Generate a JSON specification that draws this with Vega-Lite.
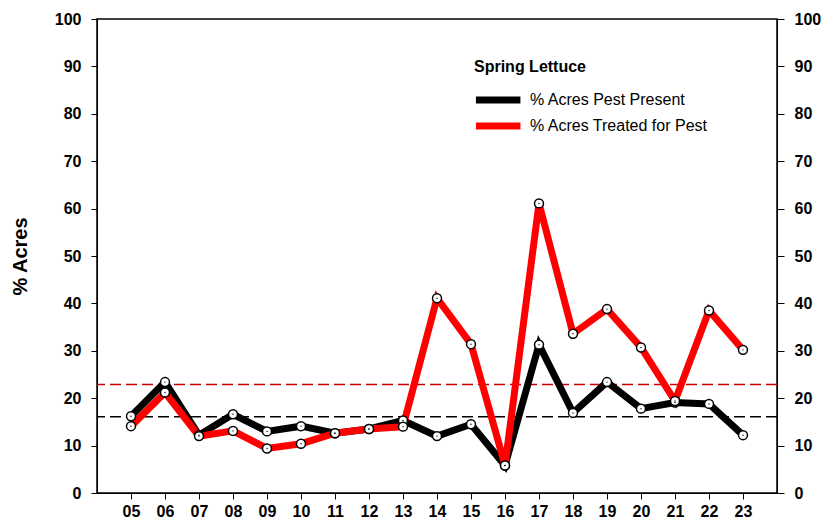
{
  "$schema": "https://vega.github.io/schema/vega-lite/v6.json",
  "width": 680,
  "height": 474,
  "autosize": {"type": "none"},
  "padding": {"left": 97, "top": 19, "right": 51, "bottom": 30},
  "background": "white",
  "config": {
    "font": "Liberation Sans",
    "view": {"stroke": "black", "strokeWidth": 1.5},
    "axis": {
      "labelFont": "Liberation Sans", "labelFontWeight": "bold", "labelFontSize": 16, "labelColor": "black",
      "domainColor": "black", "tickColor": "black", "tickSize": 6, "grid": false,
      "titleFont": "Liberation Sans", "titleFontWeight": "bold", "titleColor": "black"
    },
    "legend": {
      "labelFont": "Liberation Sans", "labelFontSize": 16, "labelColor": "black",
      "titleFont": "Liberation Sans", "titleFontSize": 16, "titleFontWeight": "bold", "titleColor": "black"
    }
  },
  "datasets": {
    "series": [
      {"year": "05", "series": "% Acres Pest Present", "value": 16.2},
      {"year": "06", "series": "% Acres Pest Present", "value": 23.4},
      {"year": "07", "series": "% Acres Pest Present", "value": 12.2},
      {"year": "08", "series": "% Acres Pest Present", "value": 16.6},
      {"year": "09", "series": "% Acres Pest Present", "value": 13.0},
      {"year": "10", "series": "% Acres Pest Present", "value": 14.1},
      {"year": "11", "series": "% Acres Pest Present", "value": 12.6},
      {"year": "12", "series": "% Acres Pest Present", "value": 13.5},
      {"year": "13", "series": "% Acres Pest Present", "value": 15.3},
      {"year": "14", "series": "% Acres Pest Present", "value": 12.0},
      {"year": "15", "series": "% Acres Pest Present", "value": 14.5},
      {"year": "16", "series": "% Acres Pest Present", "value": 5.8},
      {"year": "17", "series": "% Acres Pest Present", "value": 31.3},
      {"year": "18", "series": "% Acres Pest Present", "value": 16.9},
      {"year": "19", "series": "% Acres Pest Present", "value": 23.4},
      {"year": "20", "series": "% Acres Pest Present", "value": 17.8},
      {"year": "21", "series": "% Acres Pest Present", "value": 19.1},
      {"year": "22", "series": "% Acres Pest Present", "value": 18.8},
      {"year": "23", "series": "% Acres Pest Present", "value": 12.2},
      {"year": "05", "series": "% Acres Treated for Pest", "value": 14.1},
      {"year": "06", "series": "% Acres Treated for Pest", "value": 21.2},
      {"year": "07", "series": "% Acres Treated for Pest", "value": 12.0},
      {"year": "08", "series": "% Acres Treated for Pest", "value": 13.1},
      {"year": "09", "series": "% Acres Treated for Pest", "value": 9.4},
      {"year": "10", "series": "% Acres Treated for Pest", "value": 10.4},
      {"year": "11", "series": "% Acres Treated for Pest", "value": 12.6},
      {"year": "12", "series": "% Acres Treated for Pest", "value": 13.5},
      {"year": "13", "series": "% Acres Treated for Pest", "value": 14.0},
      {"year": "14", "series": "% Acres Treated for Pest", "value": 41.1},
      {"year": "15", "series": "% Acres Treated for Pest", "value": 31.4},
      {"year": "16", "series": "% Acres Treated for Pest", "value": 5.8},
      {"year": "17", "series": "% Acres Treated for Pest", "value": 61.1},
      {"year": "18", "series": "% Acres Treated for Pest", "value": 33.6},
      {"year": "19", "series": "% Acres Treated for Pest", "value": 38.8},
      {"year": "20", "series": "% Acres Treated for Pest", "value": 30.7},
      {"year": "21", "series": "% Acres Treated for Pest", "value": 19.4},
      {"year": "22", "series": "% Acres Treated for Pest", "value": 38.5},
      {"year": "23", "series": "% Acres Treated for Pest", "value": 30.2}
    ]
  },
  "layer": [
    {
      "data": {"values": [{"avg": 16.1}]},
      "mark": {"type": "rule", "strokeWidth": 1.5, "strokeDash": [11, 5], "color": "black"},
      "encoding": {
        "y": {"field": "avg", "type": "quantitative", "scale": {"domain": [0, 100], "nice": false},
              "axis": {"orient": "left", "values": [0,10,20,30,40,50,60,70,80,90,100], "title": "% Acres", "titleFontSize": 20, "titlePadding": 24, "labelPadding": 10}}
      }
    },
    {
      "data": {"values": [{"avg": 22.9}]},
      "mark": {"type": "rule", "strokeWidth": 1.5, "strokeDash": [11, 5], "color": "#cc0000"},
      "encoding": {
        "y": {"field": "avg", "type": "quantitative", "scale": {"domain": [0, 100], "nice": false}, "axis": null}
      }
    },
    {
      "data": {"name": "series"},
      "mark": {"type": "line", "strokeWidth": 7},
      "encoding": {
        "x": {"field": "year", "type": "ordinal", "scale": {"type": "point", "padding": 1},
              "axis": {"title": null, "labelAngle": 0, "labelPadding": 4}},
        "y": {"field": "value", "type": "quantitative", "scale": {"domain": [0, 100], "nice": false}, "axis": null},
        "stroke": {"field": "series", "type": "nominal",
                   "scale": {"domain": ["% Acres Pest Present", "% Acres Treated for Pest"], "range": ["#000000", "#ff0000"]},
                   "legend": {"title": "Spring Lettuce", "orient": "none", "legendX": 377, "legendY": 40,
                              "symbolType": "M-1.2,0H4.1", "symbolStrokeWidth": 7, "symbolSize": 282, "symbolFillColor": "transparent",
                              "labelOffset": 32, "labelLimit": 400, "rowPadding": -8, "titlePadding": 13}}
      }
    },
    {
      "data": {"name": "series"},
      "mark": {"type": "point", "shape": "circle", "filled": true, "fill": "white", "stroke": "black", "strokeWidth": 1.5, "size": 80, "opacity": 1},
      "encoding": {
        "x": {"field": "year", "type": "ordinal"},
        "y": {"field": "value", "type": "quantitative", "scale": {"domain": [0, 100], "nice": false}, "axis": null}
      }
    },
    {
      "data": {"name": "series"},
      "mark": {"type": "point", "shape": "circle", "filled": true, "color": "black", "size": 2, "opacity": 1},
      "encoding": {
        "x": {"field": "year", "type": "ordinal"},
        "y": {"field": "value", "type": "quantitative", "scale": {"domain": [0, 100], "nice": false},
              "axis": {"orient": "right", "values": [0,10,20,30,40,50,60,70,80,90,100], "title": null, "labelPadding": 10, "tickSize": 7}}
      }
    }
  ],
  "resolve": {"scale": {"y": "independent"}}
}
